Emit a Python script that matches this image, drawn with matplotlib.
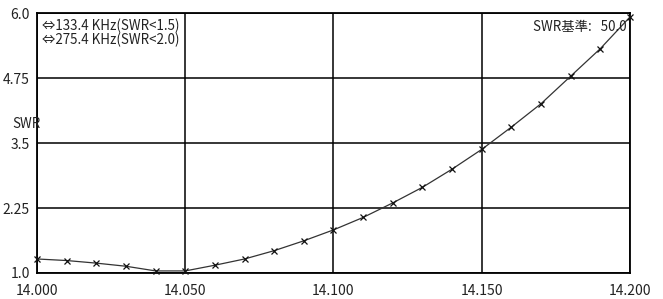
import matplotlib
matplotlib.use("Agg")
import matplotlib.pyplot as plt

plt.rcParams['font.family'] = ['Noto Sans CJK JP', 'DejaVu Sans']

freq = [14.00, 14.01, 14.02, 14.03, 14.04, 14.05, 14.06, 14.07, 14.08, 14.09, 14.10,
        14.11, 14.12, 14.13, 14.14, 14.15, 14.16, 14.17, 14.18, 14.19, 14.20]
swr = [1.27, 1.24, 1.19, 1.13, 1.04, 1.04, 1.15, 1.27, 1.43, 1.62, 1.83,
       2.07, 2.35, 2.65, 3.00, 3.38, 3.81, 4.26, 4.79, 5.32, 5.93]

xticks = [14.00, 14.05, 14.10, 14.15, 14.20]
xticklabels = ["14.000", "14.050", "14.100", "14.150", "14.200"]
yticks = [1.0, 2.25, 3.5, 4.75, 6.0]
yticklabels = ["1.0", "2.25", "3.5", "4.75", "6.0"]

bw_lines = ["⇔133.4 KHz(SWR<1.5)", "⇔275.4 KHz(SWR<2.0)"]
ref_text = "SWR基準:   50.0"

fig = plt.figure(figsize=(6.63, 2.99), dpi=100)
ax = fig.add_axes([37/663, 1 - 273/299, (630-37)/663, (273-13.3)/299])

ax.plot(freq, swr, color='#333333', lw=0.9, marker='x', ms=4.5, mew=0.9,
        mec='#111111', clip_on=False, zorder=3)

ax.set_xlim(14.00, 14.20)
ax.set_ylim(1.0, 6.0)
ax.set_xticks(xticks)
ax.set_xticklabels(xticklabels)
ax.set_yticks(yticks)
ax.set_yticklabels(yticklabels)
ax.tick_params(length=0, labelsize=10, colors='#222222')
ax.tick_params(axis='x', pad=8)
ax.tick_params(axis='y', pad=5)
ax.grid(True, color='black', lw=1.1)
for s in ax.spines.values():
    s.set_color('black')
    s.set_linewidth(1.3)

fig.text(12/663, 1 - 124/299, "SWR", fontsize=9.6, ha='left', va='center', color='#222222')

ax.text(0.008, 0.978, "\n".join(bw_lines), transform=ax.transAxes, fontsize=9.6,
        ha='left', va='top', linespacing=0.95, color='#222222')
ax.text(0.995, 0.975, ref_text, transform=ax.transAxes, fontsize=9.6,
        ha='right', va='top', color='#222222')

fig.savefig("out.png", dpi=100)
